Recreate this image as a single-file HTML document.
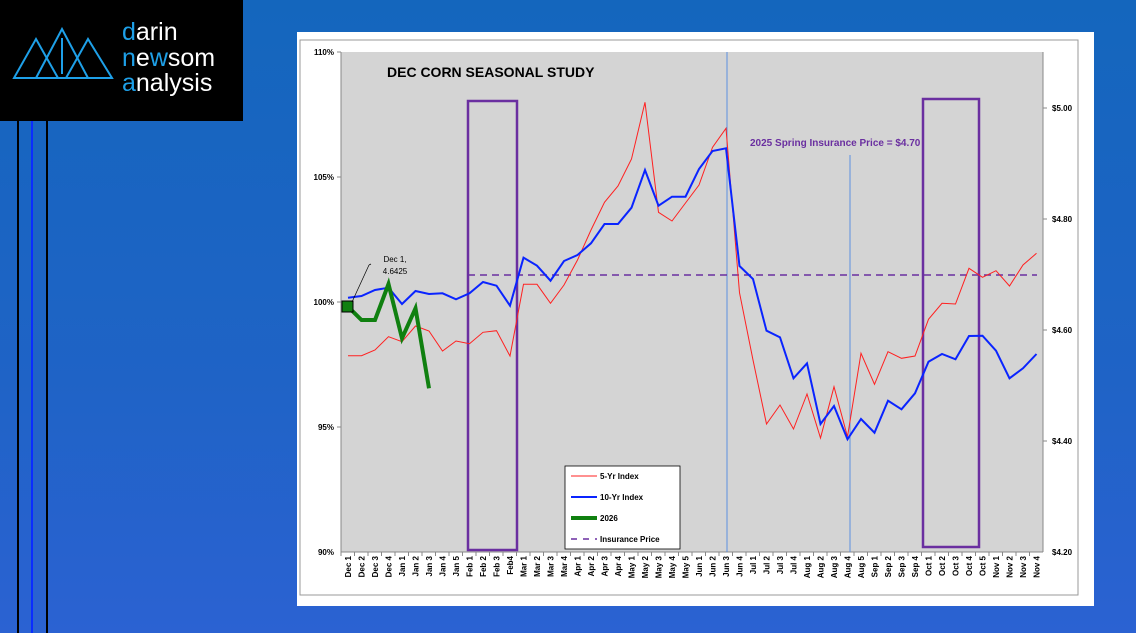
<!DOCTYPE html>
<html><head><meta charset="utf-8"><style>
html,body{margin:0;padding:0}
body{width:1136px;height:633px;overflow:hidden;background:linear-gradient(180deg,#1466bd 0%,#1f63c6 60%,#2b62d2 100%);position:relative;font-family:"Liberation Sans",sans-serif}
</style></head><body>
<svg width="1136" height="633" style="position:absolute;left:0;top:0" font-family="Liberation Sans, sans-serif">
<rect x="0" y="0" width="243" height="121" fill="#000"/>
<rect x="17" y="121" width="2" height="512" fill="#000"/>
<rect x="31" y="121" width="2" height="512" fill="#0a2cff"/>
<rect x="46" y="121" width="2" height="512" fill="#000"/>
<g fill="none" stroke="#1ea0e8" stroke-width="2">
<polygon points="14,78 36,39 58,78"/><polygon points="36,78 62,29 88,78"/><polygon points="66,78 88,39 112,78"/>
<line x1="62" y1="38" x2="62" y2="74"/>
</g>
<text x="122" y="40" font-size="25" fill="#fff"><tspan fill="#1ea0e8">d</tspan>arin</text>
<text x="122" y="66" font-size="25" fill="#fff"><tspan fill="#1ea0e8">n</tspan>e<tspan fill="#1ea0e8">w</tspan>som</text>
<text x="122" y="91" font-size="25" fill="#fff"><tspan fill="#1ea0e8">a</tspan>nalysis</text>
<rect x="297" y="32" width="797" height="574" fill="#fff"/>
<rect x="300" y="40" width="778" height="555" fill="none" stroke="#999" stroke-width="1"/>
<rect x="341" y="52" width="702" height="500" fill="#d4d4d4"/>
<line x1="341" y1="52" x2="341" y2="552" stroke="#888"/>
<line x1="1043" y1="52" x2="1043" y2="552" stroke="#888"/>
<line x1="341" y1="552" x2="1043" y2="552" stroke="#888"/>
<g font-size="8" font-weight="bold" fill="#000" text-anchor="end">
<text x="334" y="55">110%</text><text x="334" y="180">105%</text><text x="334" y="305">100%</text><text x="334" y="430">95%</text><text x="334" y="555">90%</text>
</g>
<g font-size="8" font-weight="bold" fill="#000">
<text x="1052" y="111">$5.00</text><text x="1052" y="222">$4.80</text><text x="1052" y="333">$4.60</text><text x="1052" y="444">$4.40</text><text x="1052" y="555">$4.20</text>
</g>
<g stroke="#888"><line x1="337" y1="52" x2="341" y2="52"/><line x1="337" y1="177" x2="341" y2="177"/><line x1="337" y1="302" x2="341" y2="302"/><line x1="337" y1="427" x2="341" y2="427"/><line x1="1043" y1="108" x2="1047" y2="108"/><line x1="1043" y1="219" x2="1047" y2="219"/><line x1="1043" y1="330" x2="1047" y2="330"/><line x1="1043" y1="441" x2="1047" y2="441"/></g>
<text x="387" y="77" font-size="14" font-weight="bold" fill="#000">DEC CORN SEASONAL STUDY</text>
<text x="750" y="146" font-size="10" font-weight="bold" fill="#6a2fa0">2025 Spring Insurance Price = $4.70</text>
<line x1="727" y1="52" x2="727" y2="552" stroke="#5b8fe0" stroke-width="1"/>
<line x1="850" y1="155" x2="850" y2="552" stroke="#5b8fe0" stroke-width="1"/>
<line x1="468" y1="275" x2="1037" y2="275" stroke="#6a2fa0" stroke-width="1.5" stroke-dasharray="7,5"/>
<rect x="468" y="101" width="49" height="449" fill="none" stroke="#6a2fa0" stroke-width="2.5"/>
<rect x="923" y="99" width="56" height="448" fill="none" stroke="#6a2fa0" stroke-width="2.5"/>
<polyline fill="none" stroke="#ff2020" stroke-width="1" points="348,355.7 361.5,355.7 375,350 388.5,336.7 402,341.7 415.5,326 429,331 442.5,351 456,341 469.5,343.7 483,332.3 496.5,330.7 510,356 523.5,284.3 537,284.3 550.5,303.3 564,285 577.5,260 591,230 604.5,202.3 618,186 631.5,159 645,102.3 658.5,212.3 672,221 685.5,203 699,185 712.5,147.3 726,128.3 739.5,292.7 753,360 766.5,424 780,405 793.5,429 807,394 820.5,438 834,386.7 847.5,436.7 861,353.3 874.5,384.3 888,351.7 901.5,358.3 915,356 928.5,319.3 942,303.3 955.5,304 969,268.3 982.5,277.3 996,270.7 1009.5,286 1023,265 1036.5,253.3"/>
<polyline fill="none" stroke="#0a24ff" stroke-width="2" points="348,297.7 361.5,296 375,290 388.5,287.7 402,304 415.5,291 429,294 442.5,293.3 456,299.3 469.5,293.3 483,282 496.5,285.7 510,305.7 523.5,257.7 537,265.7 550.5,280.7 564,261 577.5,255 591,243.3 604.5,224 618,224 631.5,207.7 645,170 658.5,205.7 672,196.7 685.5,196.7 699,169 712.5,151 726,148.3 739.5,266 753,279 766.5,330.7 780,337.3 793.5,378.3 807,363.3 820.5,424 834,406 847.5,439.3 861,419 874.5,432.7 888,400.7 901.5,409.3 915,393.3 928.5,361.7 942,354 955.5,359.3 969,336 982.5,335.7 996,350.7 1009.5,378.3 1023,368.3 1036.5,354"/>
<polyline fill="none" stroke="#108010" stroke-width="4" stroke-linejoin="miter" points="348,306.7 361.5,320 375,320 388.5,284 402,338.3 415.5,308.3 429,388.3"/>
<rect x="342" y="301" width="11" height="11" fill="#108010" stroke="#000" stroke-width="1"/>
<line x1="352" y1="302" x2="369" y2="265" stroke="#000" stroke-width="0.7"/>
<line x1="369" y1="265" x2="371" y2="264" stroke="#000" stroke-width="0.7"/>
<text x="395" y="262" font-size="8" text-anchor="middle" fill="#000">Dec 1,</text>
<text x="395" y="274" font-size="8" text-anchor="middle" fill="#000">4.6425</text>
<rect x="565" y="466" width="115" height="83" fill="#fff" stroke="#000" stroke-width="0.8"/>
<line x1="571" y1="476" x2="597" y2="476" stroke="#ff2020" stroke-width="1"/>
<line x1="571" y1="497" x2="597" y2="497" stroke="#0a24ff" stroke-width="2"/>
<line x1="571" y1="518" x2="597" y2="518" stroke="#108010" stroke-width="4"/>
<line x1="571" y1="539" x2="597" y2="539" stroke="#6a2fa0" stroke-width="1.5" stroke-dasharray="6,6"/>
<g font-size="8" font-weight="bold" fill="#000"><text x="600" y="479">5-Yr Index</text><text x="600" y="500">10-Yr Index</text><text x="600" y="521">2026</text><text x="600" y="542">Insurance Price</text></g>
<g font-size="8" font-weight="bold" fill="#000" text-anchor="end" id="xl"></g>
</svg>
<script>
var L=["Dec 1","Dec 2","Dec 3","Dec 4","Jan 1","Jan 2","Jan 3","Jan 4","Jan 5","Feb 1","Feb 2","Feb 3","Feb4","Mar 1","Mar 2","Mar 3","Mar 4","Apr 1","Apr 2","Apr 3","Apr 4","May 1","May 2","May 3","May 4","May 5","Jun 1","Jun 2","Jun 3","Jun 4","Jul 1","Jul 2","Jul 3","Jul 4","Aug 1","Aug 2","Aug 3","Aug 4","Aug 5","Sep 1","Sep 2","Sep 3","Sep 4","Oct 1","Oct 2","Oct 3","Oct 4","Oct 5","Nov 1","Nov 2","Nov 3","Nov 4"];
var g=document.getElementById('xl'),ns="http://www.w3.org/2000/svg",h="";
for(var i=0;i<52;i++){var x=348+13.5*i;h+='<text transform="translate('+(x+3)+',556) rotate(-90)">'+L[i]+'</text><line x1="'+(341+13.5*i)+'" y1="552" x2="'+(341+13.5*i)+'" y2="556" stroke="#888"/>';}
g.innerHTML=h;
</script>
</body></html>
